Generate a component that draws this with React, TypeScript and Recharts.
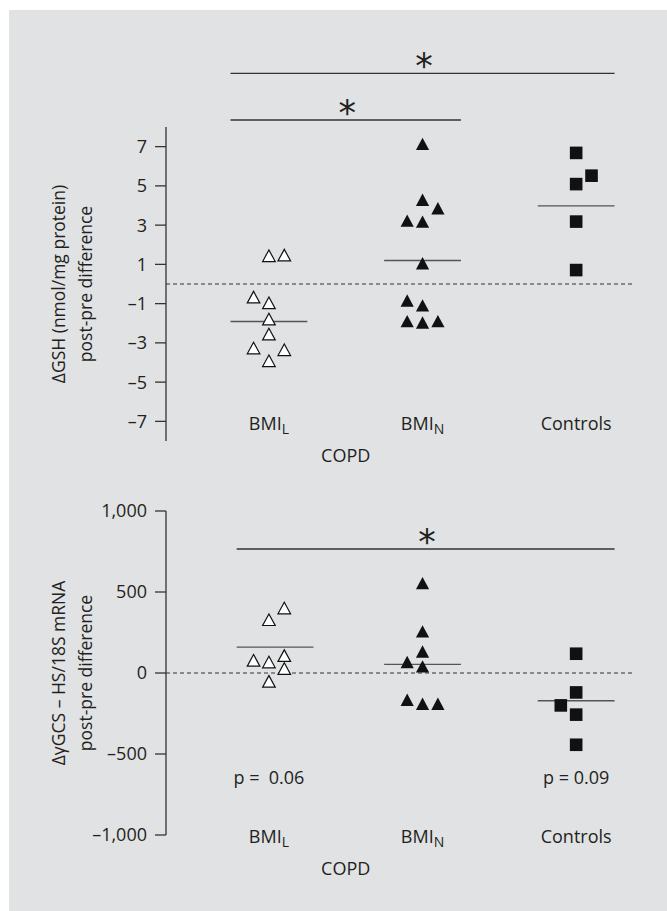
import React from 'react';
import { ScatterChart, Scatter, XAxis, YAxis, ReferenceLine } from 'recharts';

const FONT = '"Open Sans", sans-serif';
const TEXT = '#231f20';
const INK = '#111111';
const LINE = '#333333';

// Categories
const categoryPositions = [1, 2, 3];
const categoryMain = ['BMI', 'BMI', 'Controls'];
const categorySub = ['L', 'N', ''];
const groupLabel = 'COPD';
const xDomain = [0.33, 3.37];

// Top panel: ΔGSH
const gshTicks = [-7, -5, -3, -1, 1, 3, 5, 7];
const gshBmiL = [
  { x: 1.0, y: 1.44 }, { x: 1.1, y: 1.47 }, { x: 0.9, y: -0.67 }, { x: 1.0, y: -0.96 },
  { x: 1.0, y: -1.79 }, { x: 1.0, y: -2.55 }, { x: 0.9, y: -3.26 }, { x: 1.1, y: -3.35 },
  { x: 1.0, y: -3.91 },
];
const gshBmiN = [
  { x: 2.0, y: 7.14 }, { x: 2.0, y: 4.29 }, { x: 2.1, y: 3.86 }, { x: 1.9, y: 3.23 },
  { x: 2.0, y: 3.18 }, { x: 2.0, y: 1.06 }, { x: 1.9, y: -0.84 }, { x: 2.0, y: -1.09 },
  { x: 1.9, y: -1.89 }, { x: 2.0, y: -1.96 }, { x: 2.1, y: -1.89 },
];
const gshControls = [
  { x: 3.0, y: 6.68 }, { x: 3.1, y: 5.52 }, { x: 3.0, y: 5.09 }, { x: 3.0, y: 3.18 }, { x: 3.0, y: 0.71 },
];
const gshMeans = [
  { x1: 0.75, x2: 1.25, y: -1.91 },
  { x1: 1.75, x2: 2.25, y: 1.2 },
  { x1: 2.75, x2: 3.25, y: 3.98 },
];
const gshSignif = [
  { x1: 0.75, x2: 3.25, y: 10.73 },
  { x1: 0.75, x2: 2.25, y: 8.36 },
];

// Bottom panel: ΔγGCS-HS/18S mRNA
const gcsTicks = [-1000, -500, 0, 500, 1000];
const gcsBmiL = [
  { x: 1.1, y: 401 }, { x: 1.0, y: 329 }, { x: 1.1, y: 107 }, { x: 0.9, y: 78 },
  { x: 1.0, y: 68 }, { x: 1.1, y: 27 }, { x: 1.0, y: -52 },
];
const gcsBmiN = [
  { x: 2.0, y: 555 }, { x: 2.0, y: 257 }, { x: 2.0, y: 133 }, { x: 1.9, y: 68 },
  { x: 2.0, y: 41 }, { x: 1.9, y: -165 }, { x: 2.0, y: -190 }, { x: 2.1, y: -190 },
];
const gcsControls = [
  { x: 3.0, y: 119 }, { x: 3.0, y: -120 }, { x: 2.9, y: -200 }, { x: 3.0, y: -257 }, { x: 3.0, y: -443 },
];
const gcsMeans = [
  { x1: 0.79, x2: 1.29, y: 160 },
  { x1: 1.75, x2: 2.25, y: 53 },
  { x1: 2.75, x2: 3.25, y: -171 },
];
const gcsSignif = [{ x1: 0.79, x2: 3.25, y: 765 }];
const gcsPValues = [
  { x: 1.0, y: -646, text: 'p =  0.06' },
  { x: 3.0, y: -646, text: 'p = 0.09' },
];

const fmtDash = (v: number, comma: boolean) => {
  const a = Math.abs(v);
  const s = comma ? a.toLocaleString('en-US') : String(a);
  return v < 0 ? '\u2013' + s : s;
};

const OpenTriangle = (p: any) => {
  const { cx, cy } = p;
  if (cx == null || cy == null) return null;
  const w = 6.3, h = 5.8;
  return <polygon points={`${cx - w},${cy + h} ${cx + w},${cy + h} ${cx},${cy - h}`} fill="#ffffff" stroke={INK} strokeWidth={1.2} strokeLinejoin="miter" />;
};
const FilledTriangle = (p: any) => {
  const { cx, cy } = p;
  if (cx == null || cy == null) return null;
  const w = 6.6, h = 6.2;
  return <polygon points={`${cx - w},${cy + h} ${cx + w},${cy + h} ${cx},${cy - h}`} fill={INK} stroke="none" />;
};
const FilledSquare = (p: any) => {
  const { cx, cy } = p;
  if (cx == null || cy == null) return null;
  const s = 12.6;
  return <rect x={cx - s / 2} y={cy - s / 2} width={s} height={s} fill={INK} />;
};
const PText = (p: any) => {
  const { cx, cy, payload } = p;
  if (cx == null || cy == null) return null;
  return (
    <text x={cx} y={cy + 6} textAnchor="middle" fontFamily={FONT} fontSize={18} fill={TEXT} style={{ whiteSpace: 'pre' }}>
      {payload.text}
    </text>
  );
};

const makeCatTick = (dy: number) => (props: any) => {
  const { x, y, payload } = props;
  const i = categoryPositions.indexOf(payload.value);
  if (i < 0) return null;
  return (
    <text x={x} y={y + dy} textAnchor="middle" fontFamily={FONT} fontSize={18} fill={TEXT}>
      <tspan>{categoryMain[i]}</tspan>
      {categorySub[i] ? <tspan fontSize={14} dy={4}>{categorySub[i]}</tspan> : null}
    </text>
  );
};

const makeGroupLabel = (dy: number) => (props: any) => {
  const vb = props.viewBox || {};
  const frac = (1.5 - xDomain[0]) / (xDomain[1] - xDomain[0]);
  const x = vb.x + frac * vb.width;
  return (
    <text x={x} y={vb.y + dy} textAnchor="middle" fontFamily={FONT} fontSize={18} fill={TEXT}>
      {groupLabel}
    </text>
  );
};

const makeYLabel = (line1: string, line2: string, x1: number, x2: number) => (props: any) => {
  const vb = props.viewBox || {};
  const cy = vb.y + vb.height / 2;
  return (
    <g>
      <text x={x1} y={cy} transform={`rotate(-90, ${x1}, ${cy})`} textAnchor="middle" fontFamily={FONT} fontSize={17.5} fill={TEXT}>{line1}</text>
      <text x={x2} y={cy} transform={`rotate(-90, ${x2}, ${cy})`} textAnchor="middle" fontFamily={FONT} fontSize={17.5} fill={TEXT}>{line2}</text>
    </g>
  );
};

const renderStar = (props: any) => {
  const vb = props.viewBox || {};
  let cx: number, cy: number;
  if (vb.x1 != null) {
    cx = (vb.x1 + vb.x2) / 2;
    cy = Math.min(vb.y1, vb.y2);
  } else {
    cx = vb.x + (vb.width || 0) / 2;
    cy = vb.y;
  }
  return (
    <text x={cx + 1.5} y={cy + 5} textAnchor="middle" fontFamily="DejaVu Sans" fontSize={35} fill={TEXT}>*</text>
  );
};

const meanLines = (means: any[], prefix: string) =>
  means.map((m, i) => (
    <ReferenceLine
      key={prefix + 'm' + i}
      segment={[{ x: m.x1, y: m.y }, { x: m.x2, y: m.y }]}
      stroke="#555555"
      strokeWidth={1.4}
      ifOverflow="visible"
    />
  ));

const sigLines = (sigs: any[], prefix: string) =>
  sigs.map((s, i) => (
    <ReferenceLine
      key={prefix + 's' + i}
      segment={[{ x: s.x1, y: s.y }, { x: s.x2, y: s.y }]}
      stroke={LINE}
      strokeWidth={1.4}
      ifOverflow="visible"
      label={renderStar}
    />
  ));

export default function App() {
  return (
    <div style={{ position: 'fixed', left: 0, top: 0, width: 667, height: 911, overflow: 'hidden', background: '#ffffff' }}>
      <div style={{ position: 'absolute', left: 9, top: 10, width: 658, height: 901, background: '#e1e2e4' }} />
      <div style={{ position: 'absolute', left: 0, top: 0 }}>
        <ScatterChart width={667} height={480} margin={{ top: 127, right: 34, bottom: 9, left: 0 }}>
          <XAxis
            type="number"
            dataKey="x"
            domain={xDomain}
            ticks={categoryPositions}
            axisLine={false}
            tickLine={false}
            tickSize={0}
            tickMargin={0}
            height={30}
            tick={makeCatTick(-11)}
            label={makeGroupLabel(21)}
          />
          <YAxis
            type="number"
            dataKey="y"
            domain={[-8, 8]}
            ticks={gshTicks}
            width={166}
            tickSize={11}
            tickMargin={8}
            axisLine={{ stroke: LINE, strokeWidth: 1.3 }}
            tickLine={{ stroke: LINE, strokeWidth: 1.3 }}
            tick={{ fill: TEXT, fontSize: 18, fontFamily: FONT }}
            tickFormatter={(v: number) => fmtDash(v, false)}
            label={makeYLabel('\u0394GSH (nmol/mg protein)', 'post-pre difference', 65, 92)}
          />
          <ReferenceLine y={0} stroke={LINE} strokeDasharray="4 3" strokeWidth={1.2} />
          {meanLines(gshMeans, 't')}
          {sigLines(gshSignif, 't')}
          <Scatter data={gshBmiL} shape={OpenTriangle} isAnimationActive={false} />
          <Scatter data={gshBmiN} shape={FilledTriangle} isAnimationActive={false} />
          <Scatter data={gshControls} shape={FilledSquare} isAnimationActive={false} />
        </ScatterChart>
      </div>
      <div style={{ position: 'absolute', left: 0, top: 480 }}>
        <ScatterChart width={667} height={431} margin={{ top: 31, right: 34, bottom: 46, left: 0 }}>
          <XAxis
            type="number"
            dataKey="x"
            domain={xDomain}
            ticks={categoryPositions}
            axisLine={false}
            tickLine={false}
            tickSize={0}
            tickMargin={0}
            height={30}
            tick={makeCatTick(8)}
            label={makeGroupLabel(40)}
          />
          <YAxis
            type="number"
            dataKey="y"
            domain={[-1000, 1000]}
            ticks={gcsTicks}
            width={166}
            tickSize={11}
            tickMargin={8}
            axisLine={{ stroke: LINE, strokeWidth: 1.3 }}
            tickLine={{ stroke: LINE, strokeWidth: 1.3 }}
            tick={{ fill: TEXT, fontSize: 18, fontFamily: FONT }}
            tickFormatter={(v: number) => fmtDash(v, true)}
            label={makeYLabel('\u0394\u03b3GCS \u2013 HS/18S mRNA', 'post-pre difference', 65, 92)}
          />
          <ReferenceLine y={0} stroke={LINE} strokeDasharray="4 3" strokeWidth={1.2} />
          {meanLines(gcsMeans, 'b')}
          {sigLines(gcsSignif, 'b')}
          <Scatter data={gcsBmiL} shape={OpenTriangle} isAnimationActive={false} />
          <Scatter data={gcsBmiN} shape={FilledTriangle} isAnimationActive={false} />
          <Scatter data={gcsControls} shape={FilledSquare} isAnimationActive={false} />
          <Scatter data={gcsPValues} shape={PText} isAnimationActive={false} />
        </ScatterChart>
      </div>
    </div>
  );
}
